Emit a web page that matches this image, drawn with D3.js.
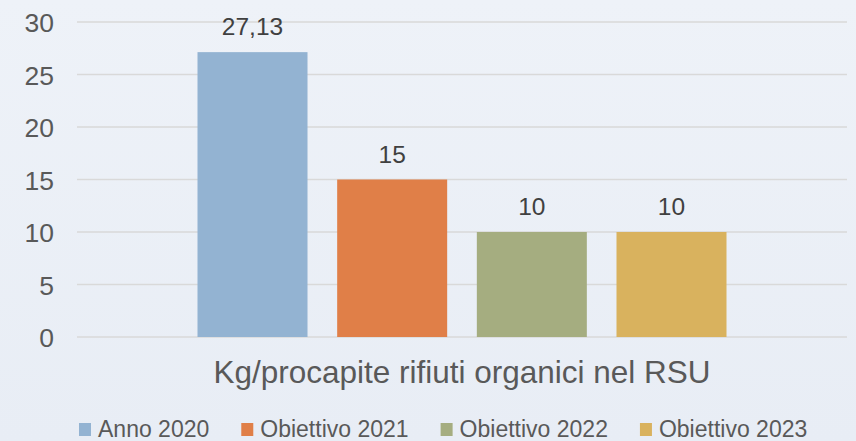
<!DOCTYPE html>
<html>
<head>
<meta charset="utf-8">
<script src="https://cdn.jsdelivr.net/npm/d3@7"></script>
<style>
  html, body { margin: 0; padding: 0; background: #eaeff6; }
  svg { display: block; font-family: "Liberation Sans", Arial, sans-serif; }
</style>
</head>
<body>
<div id="chart"></div>
<script>
// data
const category = "Kg/procapite rifiuti organici nel RSU";
const seriesNames = ["Anno 2020", "Obiettivo 2021", "Obiettivo 2022", "Obiettivo 2023"];
const seriesValues = [27.13, 15, 10, 10];
const seriesColors = ["#93b3d2", "#e07f48", "#a5ad80", "#d9b25e"];
const yTicks = [0, 5, 10, 15, 20, 25, 30];

const width = 856, height = 441;
const margin = { top: 22, right: 9, bottom: 104, left: 77 };
const textColor = "#595959";

const svg = d3.select("#chart")
    .append("svg")
    .attr("width", width)
    .attr("height", height);

// soft background gradient
const defs = svg.append("defs");
const grad = defs.append("linearGradient")
    .attr("id", "bg")
    .attr("x1", 0).attr("y1", 0).attr("x2", 0).attr("y2", 1);
grad.append("stop").attr("offset", "0%").attr("stop-color", "#eef2f8");
grad.append("stop").attr("offset", "100%").attr("stop-color", "#e8edf5");
svg.append("rect")
    .attr("width", width)
    .attr("height", height)
    .attr("fill", "url(#bg)");

const yScale = d3.scaleLinear()
    .domain([0, 30])
    .range([height - margin.bottom, margin.top]);

const xCat = d3.scaleBand()
    .domain([category])
    .range([margin.left, width - margin.right])
    .paddingInner(0)
    .paddingOuter(0.2278);

const xSeries = d3.scaleBand()
    .domain(seriesNames)
    .range([0, xCat.bandwidth()])
    .paddingInner(0.2124)
    .paddingOuter(0);

// gridlines
svg.append("g")
    .selectAll("line")
    .data(yTicks)
    .join("line")
    .attr("x1", margin.left)
    .attr("x2", width - margin.right)
    .attr("y1", d => yScale(d))
    .attr("y2", d => yScale(d))
    .attr("stroke", "#d9d9d9")
    .attr("stroke-width", 1.5);

// y axis labels
const yAxis = svg.append("g")
    .attr("transform", `translate(${margin.left - 23}, 0)`)
    .call(d3.axisLeft(yScale).tickValues(yTicks).tickSize(0).tickPadding(0));
yAxis.select(".domain").remove();
yAxis.selectAll("text")
    .attr("fill", textColor)
    .style("font-size", "26.5px")
    .attr("dy", "0.36em");

// bars
const data = seriesNames.map((name, i) => ({ name, value: seriesValues[i], color: seriesColors[i] }));
const g = svg.append("g")
    .attr("transform", `translate(${xCat(category)}, 0)`);

g.selectAll("rect")
    .data(data)
    .join("rect")
    .attr("x", d => xSeries(d.name))
    .attr("width", xSeries.bandwidth())
    .attr("y", d => yScale(d.value))
    .attr("height", d => yScale(0) - yScale(d.value))
    .attr("fill", d => d.color);

// value labels
g.selectAll("text.val")
    .data(data)
    .join("text")
    .attr("class", "val")
    .attr("x", d => xSeries(d.name) + xSeries.bandwidth() / 2)
    .attr("y", d => yScale(d.value) - 17)
    .attr("text-anchor", "middle")
    .attr("fill", "#404040")
    .style("font-size", "24.5px")
    .text(d => d3.format(",")(d.value).replace(".", ","));

// category label
svg.append("text")
    .attr("x", xCat(category) + xCat.bandwidth() / 2)
    .attr("y", 383)
    .attr("text-anchor", "middle")
    .attr("fill", textColor)
    .style("font-size", "31.5px")
    .text(category);

// legend
const legend = svg.append("g")
    .attr("transform", "translate(79, 423)");
let lx = 0;
data.forEach(d => {
    legend.append("rect")
        .attr("x", lx)
        .attr("y", 0)
        .attr("width", 12)
        .attr("height", 13)
        .attr("fill", d.color);
    const t = legend.append("text")
        .attr("x", lx + 19)
        .attr("y", 14.3)
        .attr("fill", textColor)
        .style("font-size", "23px")
        .text(d.name);
    lx += 19 + t.node().getComputedTextLength() + 32;
});
</script>
</body>
</html>
